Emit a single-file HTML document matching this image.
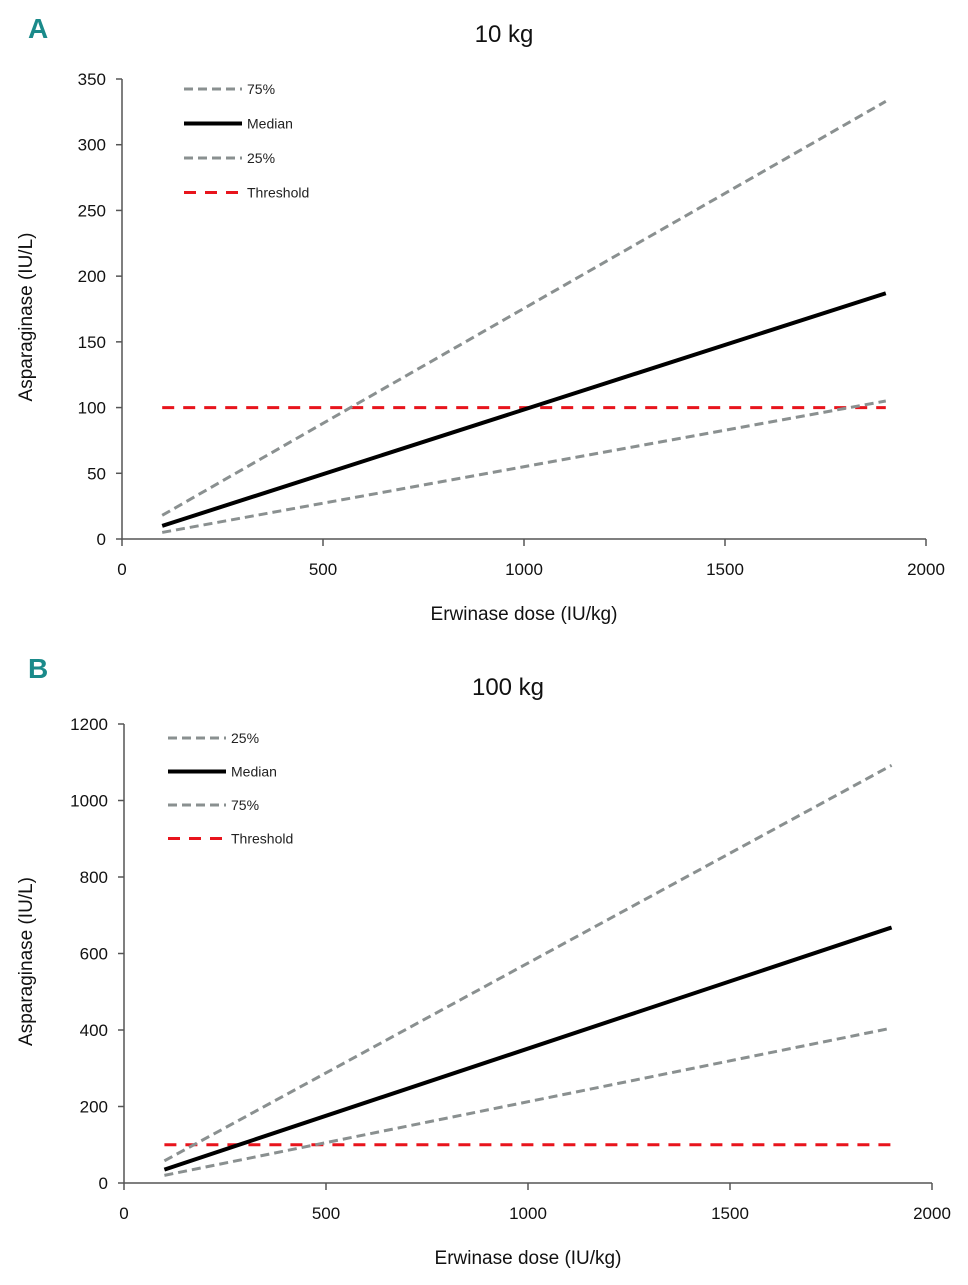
<!DOCTYPE html>
<html><head><meta charset="utf-8"><style>
body{margin:0;background:#fff;width:968px;height:1280px;overflow:hidden}
svg{font-family:"Liberation Sans",sans-serif}
</style></head><body>
<svg id="s" width="968" height="1280"></svg>
<script>
const xVals=[100,1900];
const aMedian=[10,187], a75=[18,333], a25=[5,105], aThr=[100,100];
const bMedian=[35,668], b75=[58,1092], b25=[20,405], bThr=[100,100];
const xTicks=[0,500,1000,1500,2000];
const aYTicks=[0,50,100,150,200,250,300,350];
const bYTicks=[0,200,400,600,800,1000,1200];
const aLegend=["75%","Median","25%","Threshold"];
const bLegend=["25%","Median","75%","Threshold"];
const NS="http://www.w3.org/2000/svg";
const svg=document.getElementById('s');
function el(t,a,p){const e=document.createElementNS(NS,t);for(const k in a)e.setAttribute(k,a[k]);(p||svg).appendChild(e);return e;}
const styles={
 "Median":{stroke:"#000",w:4,dash:""},
 "75%":{stroke:"#8a9090",w:3,dash:"9,5"},
 "25%":{stroke:"#8a9090",w:3,dash:"9,5"},
 "Threshold":{stroke:"#e8141c",w:3,dash:"12,9"}
};
function chart(c){
 const g=el('g',{});
 
 
 const X=v=>c.x0+(v/2000)*(c.x1-c.x0);
 const Y=v=>c.y0-(v/c.ymax)*(c.y0-c.y1);
 let t=el('text',{x:c.lx,y:c.ly,'font-size':28,'font-weight':'bold',fill:'#1a8a8a'},g);t.textContent=c.letter;
 
 t=el('text',{x:(c.x0+c.x1)/2+c.tdx,y:c.ty,'font-size':24,'text-anchor':'middle',fill:'#111'},g);t.textContent=c.title;
 
 const ax=el('path',{d:`M${c.x0},${c.y1}V${c.y0}H${c.x1}`,stroke:'#555',fill:'none','stroke-width':1.5},g);
 
 c.yt.forEach(v=>{el('line',{x1:c.x0-6,x2:c.x0,y1:Y(v),y2:Y(v),stroke:'#555','stroke-width':1.5},g);
  const tt=el('text',{x:c.x0-16,y:Y(v)+6,'font-size':17,'text-anchor':'end',fill:'#111'},g);tt.textContent=v;
  });
 xTicks.forEach(v=>{el('line',{x1:X(v),x2:X(v),y1:c.y0,y2:c.y0+7,stroke:'#555','stroke-width':1.5},g);
  const tt=el('text',{x:X(v),y:c.y0+36,'font-size':17,'text-anchor':'middle',fill:'#111'},g);tt.textContent=v;
  });
 t=el('text',{x:(c.x0+c.x1)/2,y:c.y0+81,'font-size':19,'text-anchor':'middle',fill:'#111'},g);t.textContent="Erwinase dose (IU/kg)";
 
 const yc=(c.y0+c.y1)/2+8;
 t=el('text',{x:0,y:0,'font-size':19,'text-anchor':'middle',fill:'#111',transform:`translate(${c.yax},${yc}) rotate(-90)`},g);t.textContent="Asparaginase (IU/L)";
 
 c.series.forEach(s=>{const st=styles[s.n];
  const l=el('line',{x1:X(xVals[0]),y1:Y(s.v[0]),x2:X(xVals[1]),y2:Y(s.v[1]),stroke:st.stroke,'stroke-width':st.w,'stroke-dasharray':st.dash},g);
  });
 c.legend.forEach((n,i)=>{const st=styles[n];const y=c.legY+i*c.legDy;
  const l=el('line',{x1:c.legX,x2:c.legX+58,y1:y,y2:y,stroke:st.stroke,'stroke-width':st.w,'stroke-dasharray':st.dash},g);
  
  const tt=el('text',{x:c.legX+63,y:y+5,'font-size':14,fill:'#222'},g);tt.textContent=n;
  });
}
chart({name:'chart-10kg',letter:'A',lx:28,ly:38,title:'10  kg',tdx:-20,ty:42,x0:122,x1:926,y0:539,y1:79,ymax:350,yt:aYTicks,yax:32,
 series:[{n:'Threshold',v:aThr},{n:'75%',v:a75},{n:'25%',v:a25},{n:'Median',v:aMedian}],legend:aLegend,legX:184,legY:89,legDy:34.5});
chart({name:'chart-100kg',letter:'B',lx:28,ly:678,title:'100  kg',tdx:-20,ty:695,x0:124,x1:932,y0:1183,y1:724,ymax:1200,yt:bYTicks,yax:32,
 series:[{n:'Threshold',v:bThr},{n:'75%',v:b75},{n:'25%',v:b25},{n:'Median',v:bMedian}],legend:bLegend,legX:168,legY:738,legDy:33.5});
</script>
</body></html>
